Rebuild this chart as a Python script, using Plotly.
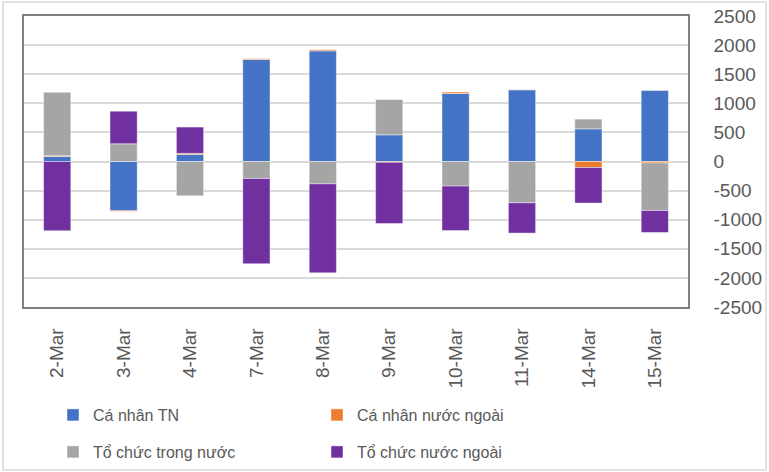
import plotly.graph_objects as go

dates = ["2-Mar", "3-Mar", "4-Mar", "7-Mar", "8-Mar", "9-Mar", "10-Mar", "11-Mar", "14-Mar", "15-Mar"]
ca_nhan_tn = [85, -847, 120, 1752, 1902, 458, 1168, 1232, 561, 1220]
ca_nhan_nn = [15, -10, 20, 15, 20, -15, 25, 3, -103, -25]
to_chuc_tn = [1090, 304, -590, -292, -383, 607, -423, -710, 167, -817]
to_chuc_nn = [-1190, 561, 452, -1465, -1530, -1050, -762, -520, -612, -378]
y_ticks = [2500, 2000, 1500, 1000, 500, 0, -500, -1000, -1500, -2000, -2500]
y_tick_labels = ["2500", "2000", "1500", "1000", "500", "0", "-500", "-1000", "-1500", "-2000", "-2500"]

series = [
    ("Cá nhân TN", ca_nhan_tn, "#4472C4", "legend"),
    ("Cá nhân nước ngoài", ca_nhan_nn, "#ED7D31", "legend"),
    ("Tổ chức trong nước", to_chuc_tn, "#A5A5A5", "legend2"),
    ("Tổ chức nước ngoài", to_chuc_nn, "#7030A0", "legend2"),
]

FONT = "Arial, 'Liberation Sans', sans-serif"
TXT = "#595959"

fig = go.Figure()
for name, vals, color, lg in series:
    fig.add_trace(go.Bar(
        x=dates, y=vals, name=name, legend=lg,
        marker=dict(color=color, line=dict(color="rgba(255,255,255,0.55)", width=0.8)),
    ))

# plot area pixel geometry
L, R, T, B = 24, 688, 16, 307
W, H = 769, 472
pw, ph = R - L, B - T

def px_x(x):
    return (x - L) / pw

def px_y(y):
    return (B - y) / ph

legend_common = dict(
    orientation="h", font=dict(family=FONT, size=16, color=TXT),
    entrywidth=219, entrywidthmode="pixels", bgcolor="rgba(0,0,0,0)",
    xref="container", yref="container",
    xanchor="left", yanchor="middle", itemclick=False,
)

fig.update_layout(
    width=W, height=H,
    margin=dict(l=L, r=W - R, t=T, b=H - B, pad=0, autoexpand=False),
    barmode="relative", bargap=0.59,
    plot_bgcolor="white", paper_bgcolor="white",
    font=dict(family=FONT, color=TXT),
    legend=dict(x=53 / W, y=1 - 415 / H, **legend_common),
    legend2=dict(x=53 / W, y=1 - 452 / H, **legend_common),
    xaxis=dict(
        showgrid=False, tickangle=-90, tickfont=dict(family=FONT, size=19, color=TXT),
        showline=True, mirror=True, linecolor="#808080", linewidth=1.5,
        ticks="outside", ticklen=12, tickcolor="rgba(0,0,0,0)",
        fixedrange=True, automargin=False,
    ),
    yaxis=dict(
        side="right", range=[-2500, 2500],
        tickmode="array", tickvals=y_ticks, ticktext=y_tick_labels,
        showgrid=True, gridcolor="#D9D9D9", gridwidth=1.5,
        zeroline=True, zerolinecolor="#D9D9D9", zerolinewidth=1.5,
        showline=True, mirror=True, linecolor="#808080", linewidth=1.5,
        tickfont=dict(family=FONT, size=19, color=TXT),
        ticks="outside", ticklen=20, tickcolor="rgba(0,0,0,0)",
        fixedrange=True, automargin=False,
    ),
    shapes=[dict(
        type="rect", xref="paper", yref="paper",
        x0=px_x(3), x1=px_x(766), y0=px_y(470), y1=px_y(2),
        line=dict(color="#D9D9D9", width=1.5), layer="below",
    )],
)

fig.write_html(
    "out.html",
    config={"displayModeBar": False},
    post_script="document.body.style.margin='0';document.body.style.padding='0';",
)
